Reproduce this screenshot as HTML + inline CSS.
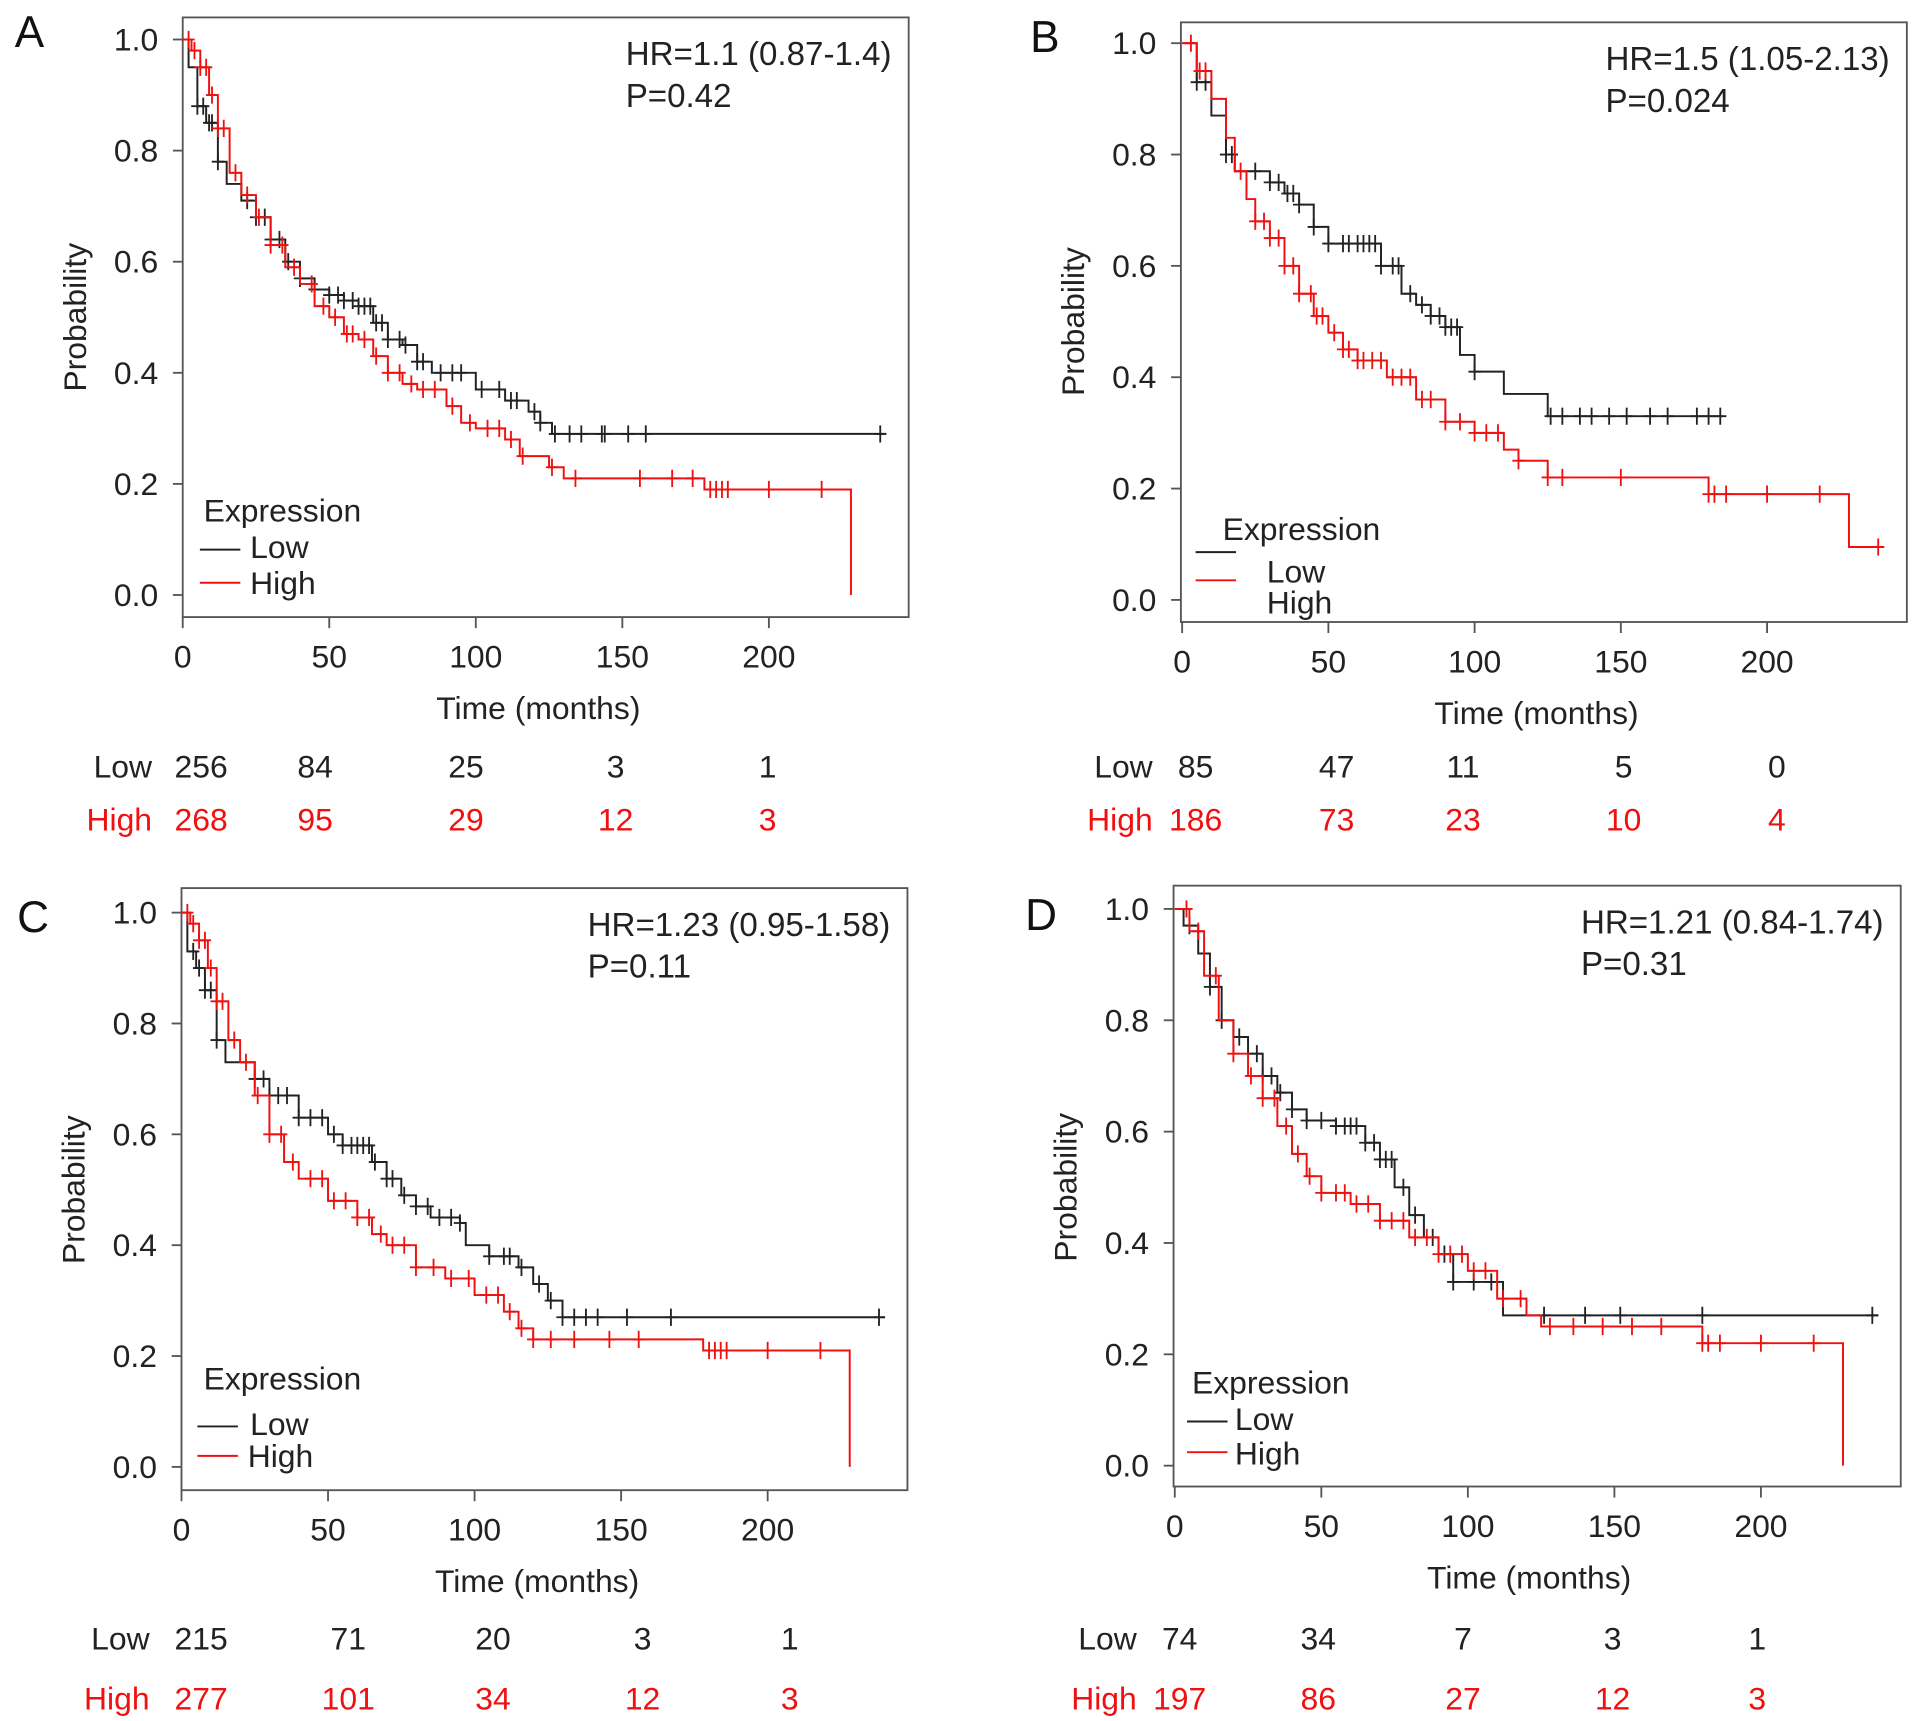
<!DOCTYPE html>
<html><head><meta charset="utf-8"><style>
html,body{margin:0;padding:0;background:#fff}
svg{display:block}
text{font-family:"Liberation Sans",Arial,sans-serif}
</style></head><body>
<svg id="fig" width="1913" height="1721" viewBox="0 0 1560 1403" xmlns="http://www.w3.org/2000/svg"></svg>
<script>
// ---- data (time in months, survival probability) ----
const xTicks = [0, 50, 100, 150, 200];
const yTicks = [0.0, 0.2, 0.4, 0.6, 0.8, 1.0];
const panelLetters = ['A', 'B', 'C', 'D'];
const hrLabels = ['HR=1.1 (0.87-1.4)', 'HR=1.5 (1.05-2.13)', 'HR=1.23 (0.95-1.58)', 'HR=1.21 (0.84-1.74)'];
const pLabels = ['P=0.42', 'P=0.024', 'P=0.11', 'P=0.31'];
const riskLow = [[256,84,25,3,1],[85,47,11,5,0],[215,71,20,3,1],[74,34,7,3,1]];
const riskHigh = [[268,95,29,12,3],[186,73,23,10,4],[277,101,34,12,3],[197,86,27,12,3]];

const lowT = [
 [0,2,5,8,12,15,20,25,30,35,40,45,50,55,60,65,70,75,80,85,95,100,110,118,122,126,240],
 [0,5,10,15,18,30,35,40,45,50,65,68,75,80,85,90,95,100,108,110,124,125,185],
 [0,2,5,8,12,15,25,30,40,50,55,62,65,70,75,80,85,95,97,105,115,120,125,130,240],
 [0,3,8,12,16,20,25,30,35,40,45,55,65,70,75,80,85,90,95,110,112,240]];
const lowS = [
 [1,0.95,0.88,0.85,0.78,0.74,0.71,0.68,0.64,0.60,0.57,0.55,0.54,0.53,0.52,0.49,0.46,0.45,0.42,0.40,0.40,0.37,0.35,0.33,0.31,0.29,0.29],
 [1,0.93,0.87,0.80,0.77,0.75,0.73,0.71,0.67,0.64,0.64,0.60,0.55,0.53,0.51,0.49,0.44,0.41,0.41,0.37,0.37,0.33,0.33],
 [1,0.93,0.90,0.86,0.77,0.73,0.70,0.67,0.63,0.60,0.58,0.58,0.55,0.52,0.49,0.47,0.45,0.44,0.40,0.38,0.36,0.33,0.30,0.27,0.27],
 [1,0.97,0.92,0.86,0.80,0.77,0.74,0.70,0.67,0.64,0.62,0.61,0.58,0.55,0.50,0.45,0.41,0.38,0.33,0.33,0.27,0.27]];
const highT = [
 [0,3,6,9,12,16,20,25,30,35,40,45,50,55,60,65,70,75,80,90,95,100,110,115,125,130,178,228],
 [0,5,10,15,18,22,25,30,35,40,45,50,55,60,70,80,90,100,110,115,125,180,228,240],
 [0,3,6,9,12,16,20,25,30,35,40,50,60,65,70,80,90,100,110,115,120,178,228],
 [0,5,10,15,20,25,30,35,40,45,50,60,70,80,90,100,110,120,125,180,228]];
const highS = [
 [1,0.98,0.95,0.90,0.84,0.76,0.72,0.68,0.63,0.59,0.56,0.52,0.50,0.47,0.46,0.43,0.40,0.38,0.37,0.34,0.31,0.30,0.28,0.25,0.23,0.21,0.19,0.0],
 [1,0.95,0.90,0.83,0.77,0.72,0.68,0.65,0.60,0.55,0.51,0.48,0.45,0.43,0.40,0.36,0.32,0.30,0.27,0.25,0.22,0.19,0.095,0.095],
 [1,0.98,0.95,0.90,0.84,0.77,0.73,0.67,0.60,0.55,0.52,0.48,0.45,0.42,0.40,0.36,0.34,0.31,0.28,0.25,0.23,0.21,0.0],
 [1,0.96,0.88,0.80,0.74,0.70,0.66,0.61,0.56,0.52,0.49,0.47,0.44,0.41,0.38,0.35,0.30,0.27,0.25,0.22,0.0]];
const lowCens = [
 [5,7,9,10,12,22,25,28,30,33,36,40,45,50,53,55,58,60,62,64,66,68,70,74,76,80,82,88,92,95,102,108,112,114,120,122,127,132,136,143,144,152,158,238],
 [5,8,15,17,25,30,33,36,38,40,45,50,55,57,60,62,64,66,68,72,74,78,82,85,88,90,92,94,100,126,130,136,140,146,152,160,166,176,180,184],
 [4,6,8,10,12,25,28,30,33,36,40,44,48,52,55,58,60,62,64,66,70,72,76,80,84,88,92,95,105,110,112,116,122,126,130,134,138,142,152,167,238],
 [5,12,16,22,28,30,33,36,40,45,50,55,58,60,62,65,68,70,72,74,78,82,88,92,95,102,108,126,140,152,180,238]];
const highCens = [
 [2,4,6,8,10,12,14,18,22,26,30,34,38,44,48,52,56,58,62,66,70,74,78,82,86,92,98,104,108,112,116,126,134,156,167,174,180,182,184,186,200,218],
 [3,6,8,20,25,28,30,33,35,38,40,44,46,48,52,55,57,60,62,65,68,72,75,78,82,85,90,95,100,104,108,115,125,130,150,180,182,186,200,218,238],
 [2,4,6,8,10,12,14,18,22,26,30,34,38,44,48,52,56,60,64,68,72,76,80,86,92,98,104,108,112,116,120,126,134,146,156,180,182,184,186,200,218],
 [4,8,14,20,26,30,34,38,42,46,50,55,58,62,66,70,74,78,82,86,90,94,98,102,106,112,118,128,136,146,156,166,180,182,186,200,218]];

// ---- layout ----
const panels = [
 {bx:149,by:14,bw:592,bh:489,x0:149,x200:627,y1:32,y0:485,lx:4,ly:0},
 {bx:963,by:18,bw:592,bh:489,x0:964,x200:1441,y1:35,y0:489,lx:832,ly:4},
 {bx:148,by:724,bw:592,bh:491,x0:148,x200:626,y1:744,y0:1196,lx:6,ly:722},
 {bx:957,by:722,bw:593,bh:490,x0:958,x200:1436,y1:741,y0:1195,lx:828,ly:720}];
const legendOff = [ {ex:166,ey:425,l1:[163,448],l2:[163,475],t1:[204,455],t2:[204,484]},
 {ex:997,ey:440,l1:[975,450],l2:[975,473],t1:[1033,475],t2:[1033,500]},
 {ex:166,ey:1133,l1:[161,1163],l2:[161,1187],t1:[204,1170],t2:[202,1196]},
 {ex:972,ey:1136,l1:[968,1159],l2:[968,1184],t1:[1007,1166],t2:[1007,1194]}];
const riskX = [[164,257,380,502,626],[975,1090,1193,1324,1449],[164,284,402,524,644],[962,1075,1193,1315,1433]];
const riskLabelX = [124,940,122,927];
const riskY = [[625,668],[625,668],[1336,1385],[1336,1385]];
const FS = 26;

const NS='http://www.w3.org/2000/svg';
const svg=document.getElementById('fig');
function el(tag,attrs,parent){const e=document.createElementNS(NS,tag);for(const k in attrs)e.setAttribute(k,attrs[k]);(parent||svg).appendChild(e);return e;}
function txt(s,attrs,parent){const e=el('text',attrs,parent);e.textContent=s;return e;}

panels.forEach((p,i)=>{
 const g=el('g',{});
 
 
 const xs=t=>p.x0+(p.x200-p.x0)*t/200;
 const ys=v=>p.y0+(p.y1-p.y0)*v;
 const L=txt(panelLetters[i],{x:p.lx+8,y:p.ly+38,'font-size':36,fill:'#111'},g);
 
 
 const box=el('rect',{x:p.bx,y:p.by,width:p.bw,height:p.bh,fill:'none',stroke:'#555','stroke-width':1.5},g);
 
 
 yTicks.forEach(v=>{
  el('line',{x1:p.bx-8,x2:p.bx,y1:ys(v),y2:ys(v),stroke:'#555','stroke-width':1.5},g);
  const t=txt(v.toFixed(1),{x:p.bx-20,y:ys(v)+9,'text-anchor':'end','font-size':FS,fill:'#222'},g);
  
  
 });
 xTicks.forEach(v=>{
  el('line',{x1:xs(v),x2:xs(v),y1:p.by+p.bh,y2:p.by+p.bh+9,stroke:'#555','stroke-width':1.5},g);
  const t=txt(String(v),{x:xs(v),y:p.by+p.bh+41,'text-anchor':'middle','font-size':FS,fill:'#222'},g);
  
  
 });
 const xt=txt('Time (months)',{x:p.bx+290,y:p.by+p.bh+83,'text-anchor':'middle','font-size':FS,fill:'#222'},g);
 
 
 const yc=(p.y0+p.y1)/2;
 const yt=txt('Probability',{x:0,y:0,transform:`translate(${p.bx-79},${yc}) rotate(-90)`,'text-anchor':'middle','font-size':FS,fill:'#222'},g);
 
 
 const hr=txt(hrLabels[i],{x:p.bx+p.bw-14,y:p.by+39,'text-anchor':'end','font-size':27,fill:'#222'},g);
 
 
 const pv=txt(pLabels[i],{x:p.bx+p.bw-14-hr.getComputedTextLength(),y:p.by+73,'font-size':27,fill:'#222'},g);
 
 

 function survAt(T,S,t){let s=S[0];for(let k=0;k<T.length;k++){if(T[k]<=t)s=S[k];else break;}return s;}
 function curve(T,S,C,color,name){
  let d=`M${xs(T[0])},${ys(S[0])}`;
  for(let k=1;k<T.length;k++){d+=`H${xs(T[k])}V${ys(S[k])}`;}
  const last=Math.max(...C,T[T.length-1]);
  if(S[S.length-1]>0) d+=`H${xs(last)}`;
  const path=el('path',{d,fill:'none',stroke:color,'stroke-width':1.6},g);
  
  
  C.forEach(c=>{
   const cx=xs(c),cy=ys(survAt(T,S,c));
   const m=el('path',{d:`M${cx-5},${cy}H${cx+5}M${cx},${cy-7}V${cy+7}`,stroke:color,'stroke-width':1.5},g);
   
   
  });
 }
 curve(lowT[i],lowS[i],lowCens[i],'#222','low');
 curve(highT[i],highS[i],highCens[i],'#f01010','high');

 const lo=legendOff[i];
 const lg=el('g',{},g);
 
 
 txt('Expression',{x:lo.ex,y:lo.ey,'font-size':FS,fill:'#222'},lg);
 el('line',{x1:lo.l1[0],x2:lo.l1[0]+33,y1:lo.l1[1],y2:lo.l1[1],stroke:'#222','stroke-width':1.6},lg);
 el('line',{x1:lo.l2[0],x2:lo.l2[0]+33,y1:lo.l2[1],y2:lo.l2[1],stroke:'#f01010','stroke-width':1.6},lg);
 const e1=txt('Low',{x:lo.t1[0],y:lo.t1[1],'font-size':FS,fill:'#222'},lg);
 
 
 const e2=txt('High',{x:lo.t2[0],y:lo.t2[1],'font-size':FS,fill:'#222'},lg);
 
 

 const rl=txt('Low',{x:riskLabelX[i],y:riskY[i][0]+9,'text-anchor':'end','font-size':FS,fill:'#222'},g);
 
 
 const rh=txt('High',{x:riskLabelX[i],y:riskY[i][1]+9,'text-anchor':'end','font-size':FS,fill:'#f01010'},g);
 
 
 riskLow[i].forEach((n,k)=>{
  const a=txt(String(n),{x:riskX[i][k],y:riskY[i][0]+9,'text-anchor':'middle','font-size':FS,fill:'#222'},g);
  
  
  const b=txt(String(riskHigh[i][k]),{x:riskX[i][k],y:riskY[i][1]+9,'text-anchor':'middle','font-size':FS,fill:'#f01010'},g);
  
  
 });
});
</script>
</body></html>
